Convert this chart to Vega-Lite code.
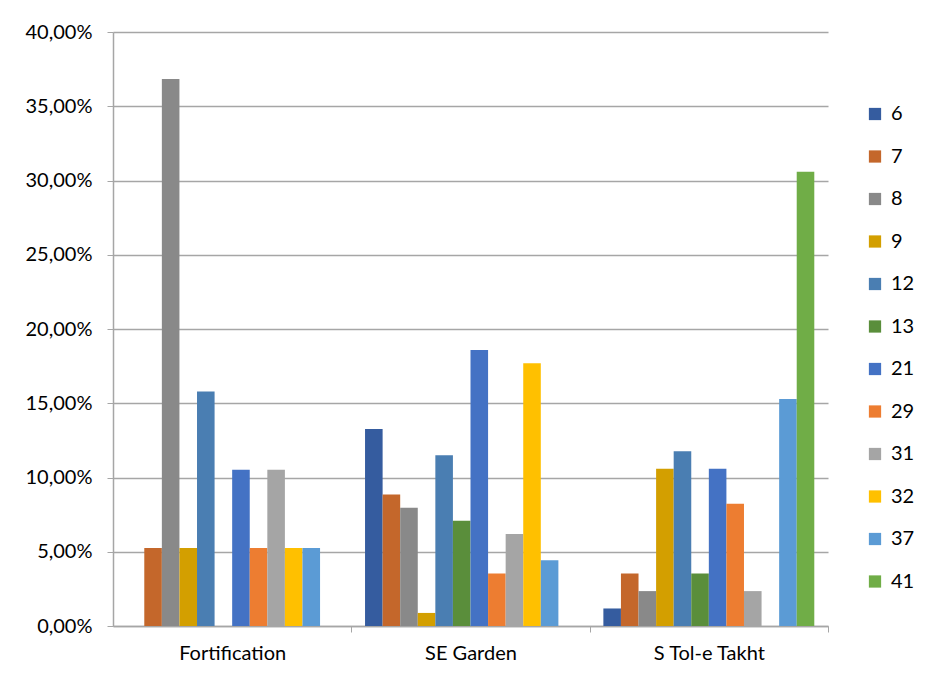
{
  "$schema": "https://vega.github.io/schema/vega-lite/v6.json",
  "width": 715,
  "height": 594,
  "autosize": {"type": "none"},
  "padding": {"left": 113, "top": 32, "right": 97, "bottom": 65},
  "background": "white",
  "config": {
    "locale": {"number": {"decimal": ",", "thousands": ".", "grouping": [3], "currency": ["", " €"]}},
    "font": "Lato",
    "view": {"stroke": null}
  },
  "data": {
    "values": [
      {"site": "Fortification", "type": "7", "share": 0.0526},
      {"site": "Fortification", "type": "8", "share": 0.3684},
      {"site": "Fortification", "type": "9", "share": 0.0526},
      {"site": "Fortification", "type": "12", "share": 0.1579},
      {"site": "Fortification", "type": "21", "share": 0.1053},
      {"site": "Fortification", "type": "29", "share": 0.0526},
      {"site": "Fortification", "type": "31", "share": 0.1053},
      {"site": "Fortification", "type": "32", "share": 0.0526},
      {"site": "Fortification", "type": "37", "share": 0.0526},
      {"site": "SE Garden", "type": "6", "share": 0.1327},
      {"site": "SE Garden", "type": "7", "share": 0.0885},
      {"site": "SE Garden", "type": "8", "share": 0.0796},
      {"site": "SE Garden", "type": "9", "share": 0.0088},
      {"site": "SE Garden", "type": "12", "share": 0.1150},
      {"site": "SE Garden", "type": "13", "share": 0.0708},
      {"site": "SE Garden", "type": "21", "share": 0.1858},
      {"site": "SE Garden", "type": "29", "share": 0.0354},
      {"site": "SE Garden", "type": "31", "share": 0.0619},
      {"site": "SE Garden", "type": "32", "share": 0.1770},
      {"site": "SE Garden", "type": "37", "share": 0.0442},
      {"site": "S Tol-e Takht", "type": "6", "share": 0.0118},
      {"site": "S Tol-e Takht", "type": "7", "share": 0.0353},
      {"site": "S Tol-e Takht", "type": "8", "share": 0.0235},
      {"site": "S Tol-e Takht", "type": "9", "share": 0.1059},
      {"site": "S Tol-e Takht", "type": "12", "share": 0.1176},
      {"site": "S Tol-e Takht", "type": "13", "share": 0.0353},
      {"site": "S Tol-e Takht", "type": "21", "share": 0.1059},
      {"site": "S Tol-e Takht", "type": "29", "share": 0.0824},
      {"site": "S Tol-e Takht", "type": "31", "share": 0.0235},
      {"site": "S Tol-e Takht", "type": "37", "share": 0.1529},
      {"site": "S Tol-e Takht", "type": "41", "share": 0.3059}
    ]
  },
  "mark": {"type": "bar"},
  "encoding": {
    "x": {
      "field": "site",
      "type": "nominal",
      "sort": ["Fortification", "SE Garden", "S Tol-e Takht"],
      "scale": {"paddingInner": 0.115, "paddingOuter": 0.0575},
      "axis": {
        "title": null,
        "labelAngle": 0,
        "labelFontSize": 20,
        "labelColor": "#000000",
        "labelPadding": 11,
        "labelOffset": -119.2,
        "domainColor": "#a6a6a6",
        "domainWidth": 1.5,
        "tickColor": "#a6a6a6",
        "tickSize": 6,
        "tickOffset": 119.2
      }
    },
    "xOffset": {
      "field": "type",
      "type": "nominal",
      "scale": {"domain": ["6", "7", "8", "9", "12", "13", "21", "29", "31", "32", "37", "41"], "paddingInner": 0, "paddingOuter": 0}
    },
    "y": {
      "field": "share",
      "type": "quantitative",
      "scale": {"domain": [0, 0.4]},
      "axis": {
        "title": null,
        "format": ".2%",
        "values": [0, 0.05, 0.1, 0.15, 0.2, 0.25, 0.3, 0.35, 0.4],
        "labelFontSize": 20,
        "labelColor": "#000000",
        "labelPadding": 15,
        "labelOverlap": false,
        "domainColor": "#a6a6a6",
        "domainWidth": 1.5,
        "tickColor": "#a6a6a6",
        "tickSize": 6,
        "gridColor": "#a6a6a6",
        "gridWidth": 1.3
      }
    },
    "color": {
      "field": "type",
      "type": "nominal",
      "scale": {
        "domain": ["6", "7", "8", "9", "12", "13", "21", "29", "31", "32", "37", "41"],
        "range": ["#355C9F", "#C4672B", "#898989", "#D39F00", "#4A7EB2", "#5A8E3B", "#4472C4", "#ED7D31", "#A5A5A5", "#FFC000", "#5B9BD5", "#70AD47"]
      },
      "legend": {
        "title": null,
        "orient": "none",
        "legendX": 752,
        "legendY": 72,
        "symbolType": "square",
        "symbolSize": 150,
        "symbolStrokeWidth": 0,
        "labelFontSize": 20,
        "labelColor": "#000000",
        "labelOffset": 6,
        "rowPadding": 22.5,
        "padding": 0
      }
    }
  }
}
